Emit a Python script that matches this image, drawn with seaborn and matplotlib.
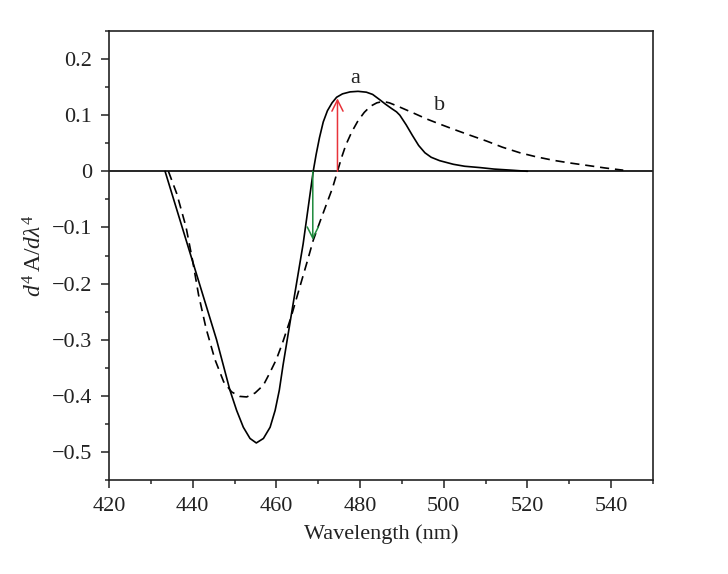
import matplotlib
matplotlib.use("Agg")
import matplotlib.pyplot as plt
import seaborn as sns
import pandas as pd
from matplotlib.ticker import MultipleLocator

# Curve a (solid)
wl_a = [433.4, 437.5, 441.6, 445.7, 448.9, 450.5, 452.1, 453.7, 455.2, 456.9, 458.5, 459.7,
        460.7, 461.6, 464.0, 466.4, 468.8, 469.5, 470.3, 471.2, 472.2, 473.3, 474.4, 475.8,
        477.6, 479.5, 481.5, 483.0, 484.8, 486.0, 487.5, 488.7, 489.5, 491.0, 492.5, 494.0,
        495.5, 497.0, 499.0, 502.3, 505.0, 508.7, 512.0, 516.6, 520.0]
val_a = [0.0, -0.100, -0.200, -0.300, -0.390, -0.426, -0.456, -0.476, -0.484, -0.476, -0.456, -0.426,
         -0.390, -0.345, -0.236, -0.129, 0.0, 0.030, 0.060, 0.088, 0.108, 0.122, 0.132, 0.138,
         0.1415, 0.1425, 0.141, 0.137, 0.127, 0.120, 0.112, 0.106, 0.100, 0.083, 0.064, 0.046,
         0.033, 0.025, 0.019, 0.0125, 0.009, 0.0066, 0.004, 0.0018, 0.0]

# Curve b (dashed)
wl_b = [434.2, 436.2, 438.4, 440.0, 441.4, 443.2, 445.3, 447.4, 449.3, 451.2, 452.9, 454.9,
        456.9, 458.5, 460.0, 461.5, 463.5, 465.6, 467.4, 468.8, 470.5, 472.0, 473.4, 474.6,
        475.6, 476.6, 478.0, 479.5, 481.0, 482.5, 484.0, 485.5, 487.0, 489.0, 492.7, 496.0,
        499.1, 502.3, 506.0, 510.2, 514.0, 518.2, 522.0, 526.2, 530.0, 534.1, 538.5, 542.9]
val_b = [0.0, -0.040, -0.099, -0.160, -0.220, -0.280, -0.335, -0.375, -0.393, -0.401, -0.402, -0.395,
         -0.381, -0.358, -0.335, -0.305, -0.260, -0.206, -0.160, -0.123, -0.088, -0.058, -0.030, 0.0,
         0.025, 0.047, 0.070, 0.090, 0.105, 0.116, 0.122, 0.1245, 0.122, 0.116, 0.104, 0.093,
         0.084, 0.075, 0.065, 0.054, 0.043, 0.033, 0.026, 0.0196, 0.015, 0.0107, 0.006, 0.002]

# Arrows: (x, y_start, y_end)
red_arrow = [474.6, 0.0, 0.130]
green_arrow = [468.7, 0.0, -0.122]

# Curve labels
labels = ["a", "b"]
label_x = [478.8, 498.9]
label_y = [0.166, 0.118]

xticks = [420, 440, 460, 480, 500, 520, 540]
yticks = [0.2, 0.1, 0.0, -0.1, -0.2, -0.3, -0.4, -0.5]
ytick_labels = ["0.2", "0.1", "0", "\u22120.1", "\u22120.2", "\u22120.3", "\u22120.4", "\u22120.5"]

sns.set_style("ticks")
plt.rcParams["font.family"] = ["Liberation Serif", "DejaVu Serif"]
plt.rcParams["mathtext.fontset"] = "custom"
plt.rcParams["mathtext.rm"] = "Liberation Serif"
plt.rcParams["mathtext.it"] = "Liberation Serif:italic"

fig = plt.figure(figsize=(7.28, 5.74), dpi=100)
ax = fig.add_axes([109 / 728, 1 - 480 / 574, (653 - 109) / 728, (480 - 31) / 574])

df_a = pd.DataFrame({"wl": wl_a, "v": val_a})
df_b = pd.DataFrame({"wl": wl_b, "v": val_b})
sns.lineplot(data=df_a, x="wl", y="v", ax=ax, color="black", lw=1.2, sort=False)
sns.lineplot(data=df_b, x="wl", y="v", ax=ax, color="black", lw=1.2, sort=False,
             dashes=False, linestyle=(0, (5.5, 3.5)))

ax.axhline(0, color="black", lw=1.2, zorder=1)

ax.annotate("", xy=(red_arrow[0], red_arrow[2]), xytext=(red_arrow[0], red_arrow[1]),
            arrowprops=dict(arrowstyle="->", color="#e8333a", lw=1.1, mutation_scale=20,
                            shrinkA=0, shrinkB=0))
ax.annotate("", xy=(green_arrow[0], green_arrow[2]), xytext=(green_arrow[0], green_arrow[1]),
            arrowprops=dict(arrowstyle="->", color="#1e8a3c", lw=1.1, mutation_scale=20,
                            shrinkA=0, shrinkB=0))

for t, x, y in zip(labels, label_x, label_y):
    ax.text(x, y, t, fontsize=16, ha="center", va="center", color="#222222")

ax.set_xlim(420, 550)
ax.set_ylim(-0.55, 0.25)
ax.set_xticks(xticks)
ax.set_yticks(yticks)
ax.set_yticklabels(ytick_labels)
ax.xaxis.set_minor_locator(MultipleLocator(10))
ax.yaxis.set_minor_locator(MultipleLocator(0.05))
ax.tick_params(which="major", direction="out", length=6, width=1.1, labelsize=16,
               colors="#222222", pad=6)
ax.tick_params(which="minor", direction="out", length=3, width=1.1)
ax.tick_params(top=False, right=False)
for s in ax.spines.values():
    s.set_visible(True)
    s.set_linewidth(1.2)
    s.set_color("#222222")

ax.set_xlabel("Wavelength (nm)", fontsize=16, color="#222222", labelpad=6)
ax.set_ylabel(r"$d^4\,\mathrm{A}/d\lambda^4$", fontsize=17, color="#222222", labelpad=4)

fig.savefig("out.png", dpi=100)
